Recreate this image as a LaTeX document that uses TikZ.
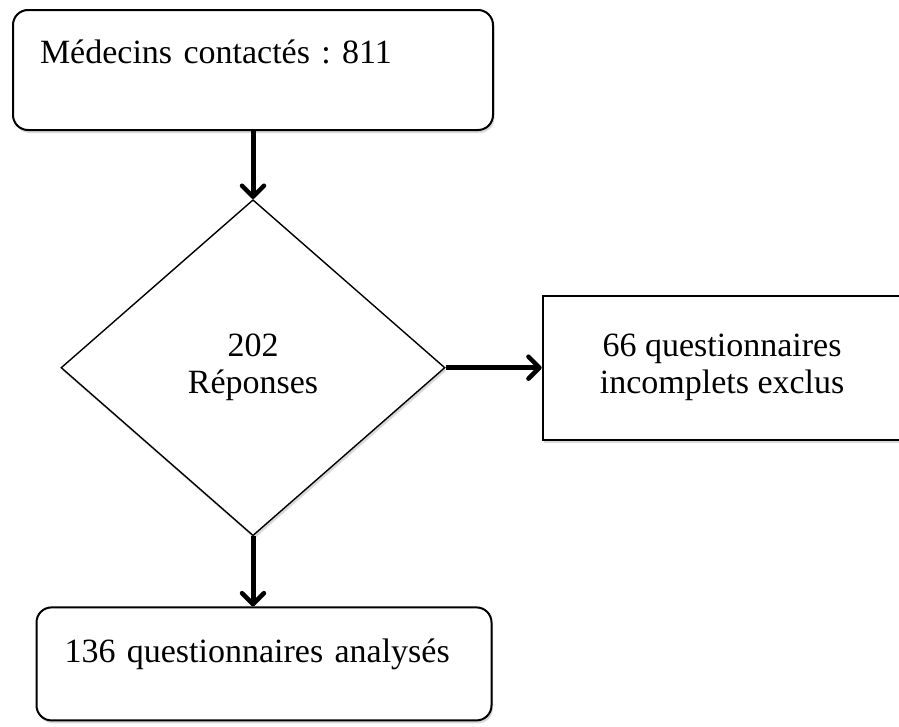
\documentclass[tikz,border=0pt]{standalone}
\usepackage{fontspec}
\setmainfont{Liberation Serif}
\frenchspacing
\usetikzlibrary{arrows.meta}
\usetikzlibrary{positioning}
\usetikzlibrary{shapes.geometric}
\usetikzlibrary{shadows}
\tikzset{
    fcnode/.style = {inner sep=0pt, fill=white, font=\fontsize{34}{37}\selectfont,
        drop shadow={shadow xshift=1.5pt, shadow yshift=-3pt, opacity=0.3}},
    fc_r/.style = {fcnode, rectangle, rounded corners=15pt, draw=black, line width=2pt,
        align=left},% boite arrondie
    fc_d/.style = {fcnode, diamond, draw=black, line width=1.4pt, align=center, aspect=1.14,
        minimum width=384pt, minimum height=336pt},% losange
    fc_x/.style = {fcnode, rectangle, draw=black, line width=1.8pt, align=center,
        minimum width=359pt, minimum height=144pt},% boite des exclus
    fc_a/.style = {line width=5pt,
        -{Straight Barb[length=11pt,width=22pt,line width=4.5pt,line cap=round,round]}},
}

\begin{document}
\begin{tikzpicture}[x=1pt, y=-1pt]
\clip (0,0) rectangle (899,726);
\node [fc_r, text width=426pt, inner xsep=27pt, text height=53pt, text depth=67pt]
    (contact) at (253,70) {Médecins contactés : 811};
\node [fc_d, below=68pt of contact] (dia) {202\\Réponses};
\node [fc_x, right=96pt of dia] (excl) {66 questionnaires\\incomplets exclus};
\node [fc_r, below=70pt of dia, xshift=11pt, text width=399pt, inner xsep=28pt,
    text height=55pt, text depth=58pt] (analyse) {136 questionnaires analysés};

\draw [fc_a] (contact) -- (dia);
\draw [fc_a] (dia.east) -- (dia.east -| excl.west);
\draw [fc_a] (dia.south) -- (dia.south |- analyse.north);
\end{tikzpicture}
\end{document}
